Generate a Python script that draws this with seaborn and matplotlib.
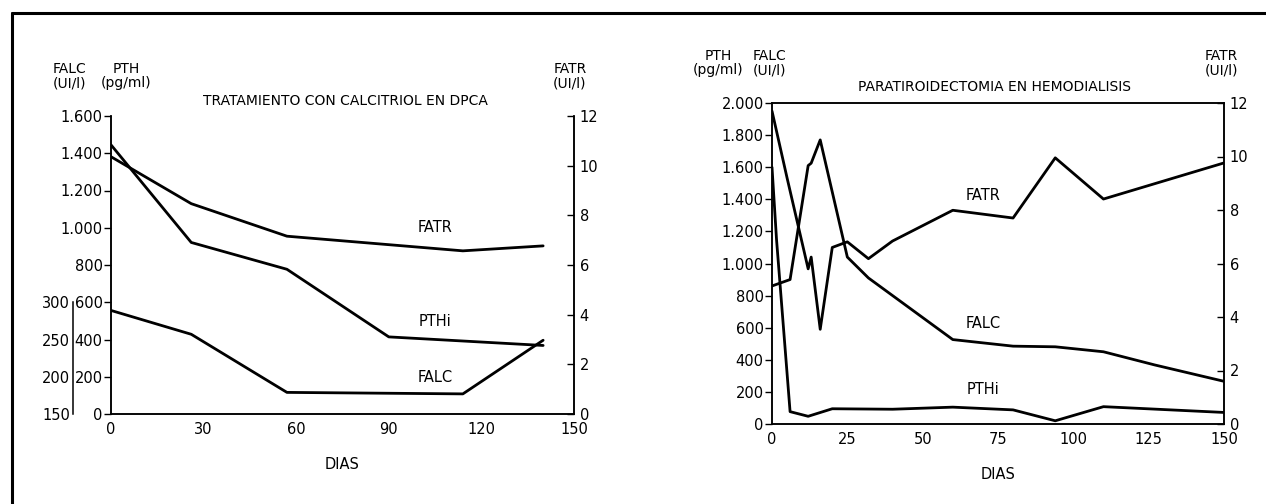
import matplotlib
matplotlib.use("Agg")
import matplotlib.pyplot as plt
import seaborn as sns
from matplotlib.ticker import FuncFormatter
from matplotlib.lines import Line2D

# --- left chart: calcitriol en DPCA ---
dpca_pth_dias = [0, 26, 57, 90, 140]
dpca_pth = [1445, 921, 777, 414, 368]
dpca_falc_dias = [0, 26, 57, 114, 140]
dpca_falc = [289, 257, 179, 177, 249]
dpca_fatr_dias = [0, 26, 57, 114, 140]
dpca_fatr = [10.36, 8.47, 7.16, 6.57, 6.77]

# --- right chart: paratiroidectomia en hemodialisis ---
ptx_pth_dias = [0, 1.5, 6, 12, 20, 40, 60, 80, 94, 110, 150]
ptx_pth = [1600, 1150, 77, 48, 95, 92, 105, 88, 20, 108, 72]
ptx_falc_dias = [0, 6, 12, 13, 16, 25, 32, 60, 80, 94, 110, 127, 150]
ptx_falc = [860, 900, 1610, 1625, 1770, 1040, 910, 526, 485, 481, 450, 368, 266]
ptx_fatr_dias = [0, 5, 12, 13, 16, 20, 25, 32, 40, 60, 80, 94, 110, 150]
ptx_fatr = [11.7, 9.2, 5.8, 6.24, 3.54, 6.6, 6.81, 6.18, 6.84, 7.99, 7.7, 9.95, 8.41, 9.76]

W, H = 1266, 504
sns.set_style("white")
plt.rcParams['font.family'] = ['Liberation Sans Narrow', 'DejaVu Sans']
plt.rcParams['font.size'] = 10
for k in ('text.color', 'axes.labelcolor', 'xtick.color', 'ytick.color'):
    plt.rcParams[k] = 'black'

fig = plt.figure(figsize=(W / 100, H / 100), dpi=100)

def rect(x0, y0, x1, y1):
    return [x0 / W, 1 - y1 / H, (x1 - x0) / W, (y1 - y0) / H]

def miles(v, pos=None):
    return f"{v:,.0f}".replace(",", ".")

LW = 2.0
TS = 10.5

# left panel
ax1 = fig.add_axes(rect(111, 116, 574, 414))
sns.lineplot(x=dpca_pth_dias, y=dpca_pth, ax=ax1, color="black", linewidth=LW)
ax1.set_xlim(0, 150)
ax1.set_ylim(0, 1600)
ax1.set_xticks([0, 30, 60, 90, 120, 150])
ax1.set_yticks(range(0, 1601, 200))
ax1.yaxis.set_major_formatter(FuncFormatter(miles))
ax1.spines['top'].set_visible(False)
ax1.tick_params(axis='y', direction='out', length=5, width=1, labelsize=TS, pad=1)
ax1.tick_params(axis='x', direction='in', length=5, width=1, labelsize=TS, pad=6)

ax1r = ax1.twinx()
sns.lineplot(x=dpca_fatr_dias, y=dpca_fatr, ax=ax1r, color="black", linewidth=LW)
ax1r.set_ylim(0, 12)
ax1r.set_yticks(range(0, 13, 2))
ax1r.spines['top'].set_visible(False)
ax1r.tick_params(axis='y', direction='in', length=5, width=1, labelsize=TS, pad=4)

axf = fig.add_axes(rect(111, 116, 574, 414))
axf.patch.set_visible(False)
sns.lineplot(x=dpca_falc_dias, y=dpca_falc, ax=axf, color="black", linewidth=LW)
axf.set_xlim(0, 150)
axf.set_ylim(150, 550)
for s in ['top', 'right', 'bottom']:
    axf.spines[s].set_visible(False)
axf.spines['left'].set_position(('axes', (73 - 111) / 463))
axf.spines['left'].set_bounds(150, 300)
axf.set_yticks([150, 200, 250, 300])
axf.xaxis.set_visible(False)
axf.tick_params(axis='y', direction='in', length=5, width=1, labelsize=TS, pad=2)

for a in (ax1, ax1r, axf):
    a.set_xlabel("")
    a.set_ylabel("")
    for s in a.spines.values():
        s.set_linewidth(1.1)
        s.set_color("black")

ax1.set_xlabel("DIAS", fontsize=10.5, labelpad=14)
ax1.text(105, 1000, "FATR", fontsize=10.5, ha='center', va='center')
ax1.text(105, 498, "PTHi", fontsize=10.5, ha='center', va='center')
ax1.text(105, 196, "FALC", fontsize=10.5, ha='center', va='center')

# right panel
ax2 = fig.add_axes(rect(772, 103, 1224, 424))
sns.lineplot(x=ptx_pth_dias, y=ptx_pth, ax=ax2, color="black", linewidth=LW)
sns.lineplot(x=ptx_falc_dias, y=ptx_falc, ax=ax2, color="black", linewidth=LW)
ax2.set_xlim(0, 150)
ax2.set_ylim(0, 2000)
ax2.set_xticks([0, 25, 50, 75, 100, 125, 150])
ax2.set_yticks(range(0, 2001, 200))
ax2.yaxis.set_major_formatter(FuncFormatter(miles))
ax2.tick_params(axis='y', direction='out', length=5, width=1, labelsize=TS, pad=1)
ax2.tick_params(axis='x', direction='in', length=5, width=1, labelsize=TS, pad=6)

ax2r = ax2.twinx()
sns.lineplot(x=ptx_fatr_dias, y=ptx_fatr, ax=ax2r, color="black", linewidth=LW)
ax2r.set_ylim(0, 12)
ax2r.set_yticks(range(0, 13, 2))
ax2r.tick_params(axis='y', direction='in', length=5, width=1, labelsize=TS, pad=4)

for a in (ax2, ax2r):
    a.set_xlabel("")
    a.set_ylabel("")
    for s in a.spines.values():
        s.set_linewidth(1.1)
        s.set_color("black")

ax2.set_xlabel("DIAS", fontsize=10.5, labelpad=14)
ax2.text(70, 1423, "FATR", fontsize=10.5, ha='center', va='center')
ax2.text(70, 624, "FALC", fontsize=10.5, ha='center', va='center')
ax2.text(70, 215, "PTHi", fontsize=10.5, ha='center', va='center')

# headers and titles
def ftext(x, y, s, **kw):
    fig.text(x / W, 1 - y / H, s, ha='center', va='center', fontsize=10, **kw)

ftext(70, 76, "FALC\n(UI/l)", linespacing=1.05)
ftext(126, 76, "PTH\n(pg/ml)", linespacing=1.05)
ftext(570, 76, "FATR\n(UI/l)", linespacing=1.05)
ftext(345, 101, "TRATAMIENTO CON CALCITRIOL EN DPCA")

ftext(718, 63, "PTH\n(pg/ml)", linespacing=1.05)
ftext(770, 63, "FALC\n(UI/l)", linespacing=1.05)
ftext(1221, 63, "FATR\n(UI/l)", linespacing=1.05)
ftext(995, 87, "PARATIROIDECTOMIA EN HEMODIALISIS")

# frame of the figure
fig.add_artist(Line2D([12 / W, 1], [1 - 13 / H, 1 - 13 / H], color="black", linewidth=2.2,
                      transform=fig.transFigure))
fig.add_artist(Line2D([12 / W, 12 / W], [1 - 13 / H, 0], color="black", linewidth=2.2,
                      transform=fig.transFigure))

fig.savefig("out.png", dpi=100)
